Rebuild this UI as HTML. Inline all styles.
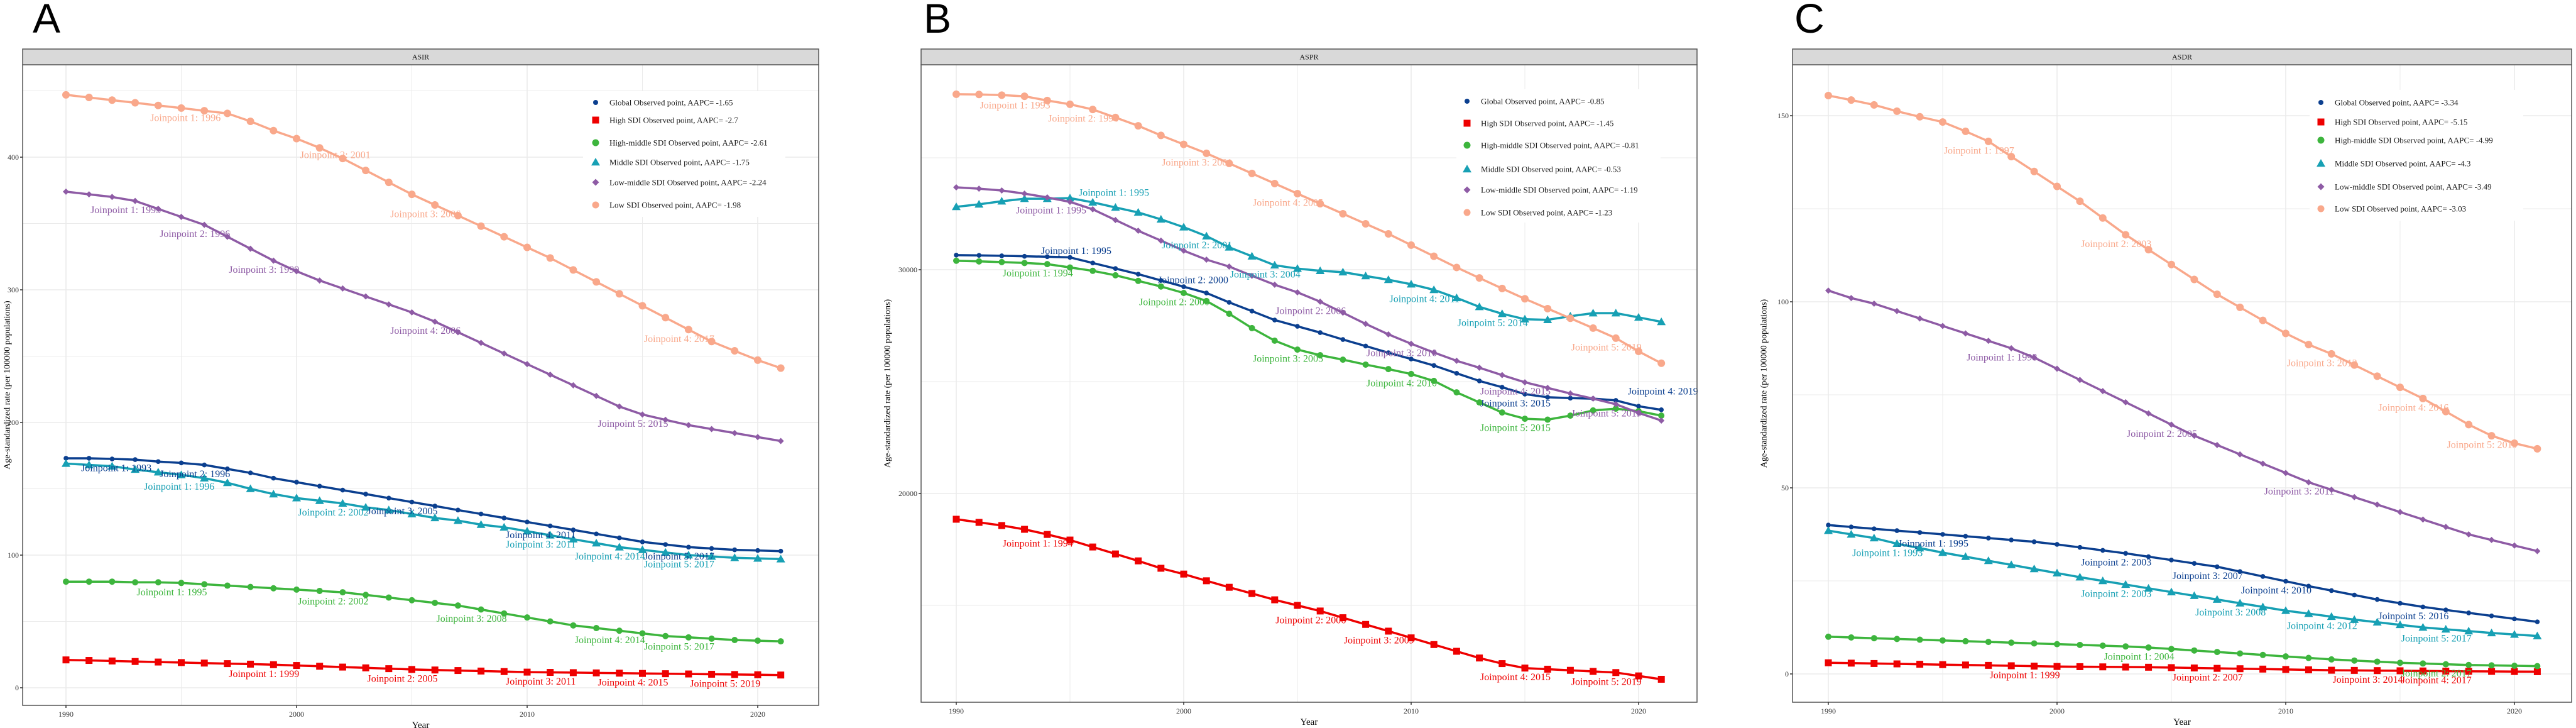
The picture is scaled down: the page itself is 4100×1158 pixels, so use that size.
<!DOCTYPE html>
<html><head><meta charset="utf-8">
<style>
html,body{margin:0;padding:0;background:#fff;}
svg{display:block;font-family:"Liberation Serif",serif;}
.letter{font-family:"Liberation Sans",sans-serif;}
</style></head>
<body>
<svg id="fig" width="4100" height="1158" viewBox="0 0 4100 1158" xmlns="http://www.w3.org/2000/svg"></svg>
<script>
// ---------- DATA ----------
const years = [1990,1991,1992,1993,1994,1995,1996,1997,1998,1999,2000,2001,2002,2003,2004,2005,2006,2007,2008,2009,2010,2011,2012,2013,2014,2015,2016,2017,2018,2019,2020,2021];
const seriesNames = ["Global","High SDI","High-middle SDI","Middle SDI","Low-middle SDI","Low SDI"];

// Panel A: ASIR
const aGlobal  = [173,173,172.5,172,170.5,169.5,168,165,162,158,155,152,149,146,143,140,137,134,131,128,125,122,119,116,113,110,108,106,105,104,103.5,103];
const aHigh    = [21,20.6,20.2,19.8,19.4,19,18.6,18.2,17.8,17.4,16.8,16.2,15.6,15,14.4,13.8,13.4,13,12.6,12.2,11.8,11.6,11.4,11.2,11,10.8,10.6,10.4,10.2,10,9.8,9.6];
const aHighMid = [80,80,80,79.5,79.5,79,78,77,76,75,74,73,72,70,68,66,64,62,59,56,53,50,47,45,43,41,39,38,37,36,35.5,35];
const aMiddle  = [169,168,167,164.5,162.5,160.5,158,154.5,150,146,143,141,139,136,134,131,128,126,123,121,118,115,112,109,106,104,102,100,99,98,97.5,97];
const aLowMid  = [374,372,370,367,361,355,349,340,331,322,314,307,301,295,289,283,276,268,260,252,244,236,228,220,212,206,202,198,195,192,189,186];
const aLow     = [447,445,443,441,439,437,435,433,427,420,414,407,399,390,381,372,364,356,348,340,332,324,315,306,297,288,279,270,261,254,247,241];
const aAAPC = [-1.65,-2.7,-2.61,-1.75,-2.24,-1.98];
const aJP = [[1993,1996,2005,2011,2017],[1999,2005,2011,2015,2019],[1995,2002,2008,2014,2017],[1996,2002,2011,2014,2017],[1993,1996,1999,2006,2015],[1996,2001,2006,2017]];

// Panel B: ASPR
const bGlobal  = [30650,30640,30620,30600,30580,30550,30300,30050,29800,29520,29240,28960,28540,28150,27750,27470,27190,26880,26590,26290,26010,25720,25370,25030,24750,24440,24300,24260,24240,24160,23900,23740];
const bHigh    = [18850,18710,18570,18400,18170,17920,17610,17300,16990,16660,16400,16100,15810,15530,15250,15000,14750,14450,14150,13850,13550,13250,12950,12650,12400,12200,12150,12100,12050,12000,11850,11700];
const bHighMid = [30400,30370,30340,30300,30250,30100,29950,29750,29500,29250,28960,28600,28030,27390,26830,26430,26180,25980,25760,25560,25340,25030,24520,24070,23620,23340,23300,23480,23710,23790,23680,23480];
const bMiddle  = [32810,32920,33060,33170,33170,33200,33010,32780,32560,32250,31900,31500,31000,30600,30200,30050,29950,29890,29720,29550,29350,29100,28740,28340,28030,27790,27760,27920,28060,28060,27870,27670];
const bLowMid  = [33680,33620,33540,33400,33230,33030,32700,32220,31740,31300,30850,30450,30140,29730,29330,28990,28570,28080,27580,27110,26690,26300,25930,25620,25290,24970,24720,24470,24240,23990,23600,23260];
const bLow     = [37840,37830,37800,37750,37560,37390,37160,36800,36430,36000,35600,35200,34750,34300,33850,33400,32950,32500,32050,31600,31100,30600,30100,29630,29160,28700,28260,27830,27390,26940,26350,25820];
const bAAPC = [-0.85,-1.45,-0.81,-0.53,-1.19,-1.23];
const bJP = [[1995,2000,2015,2019],[1994,2006,2009,2015,2019],[1994,2000,2005,2010,2015],[1995,2001,2004,2011,2014],[1995,2006,2010,2015,2019],[1993,1996,2001,2005,2019]];

// Panel C: ASDR
const cGlobal  = [40,39.5,39,38.5,38,37.5,37,36.5,36,35.5,34.8,34,33.2,32.4,31.5,30.6,29.7,28.8,27.5,26.2,24.9,23.6,22.4,21.2,20,19,18,17.2,16.4,15.6,14.8,14];
const cHigh    = [3,2.9,2.8,2.7,2.6,2.5,2.4,2.3,2.2,2.1,2,1.95,1.9,1.85,1.8,1.7,1.6,1.5,1.4,1.3,1.2,1.1,1,0.95,0.9,0.85,0.8,0.75,0.7,0.68,0.65,0.6];
const cHighMid = [10,9.8,9.6,9.4,9.2,9,8.8,8.6,8.4,8.2,8,7.8,7.6,7.4,7.1,6.7,6.3,5.9,5.5,5.1,4.7,4.3,3.9,3.6,3.3,3,2.8,2.6,2.4,2.3,2.2,2.1];
const cMiddle  = [38.5,37.5,36.5,35,33.8,32.6,31.5,30.4,29.3,28.2,27.1,26,25,24,23,22,21,20,19,18,17,16.2,15.4,14.6,13.9,13.2,12.5,12,11.5,11,10.6,10.2];
const cLowMid  = [103,101,99.5,97.5,95.5,93.5,91.5,89.5,87.5,85,82,79,76,73,70,67,64,61.5,59,56.5,54,51.5,49.5,47.5,45.5,43.5,41.5,39.5,37.5,36,34.5,33];
const cLow     = [155.4,154.2,152.9,151.2,149.7,148.3,145.8,143.1,139,135,131,127,122.5,118,114,110,106,102,98.5,95,91.5,88.5,86,83,80,77,74,70.5,67,64,62,60.5];
const cAAPC = [-3.34,-5.15,-4.99,-4.3,-3.49,-3.03];
const cJP = [[1995,2003,2007,2010,2016],[1999,2007,2014,2017],[2004,2017],[1993,2003,2008,2012,2017],[1998,2005,2011],[1997,2003,2012,2016,2019]];

const aTicks = [0,100,200,300,400], aMinor = [50,150,250,350,450];
const bTicks = [20000,30000], bMinor = [15000,25000,35000];
const cTicks = [0,50,100,150], cMinor = [25,75,125];
const xTicks = [1990,2000,2010,2020], xMinor = [1995,2005,2015];

// ---------- STYLE / LAYOUT ----------
const colors = ["#0B3F8F","#EE0000","#3DB53D","#17A0B4","#8E5BA5","#F9A88B"];
const shapes = ["circle","square","circle","triangle","diamond","circle"];
const sizes  = [3.8,5.5,5,7,5,6];
const NS = "http://www.w3.org/2000/svg";
const svg = document.getElementById("fig");

const panels = [
  {key:"a", letter:"A", strip:"ASIR", left:36, right:1303, bottom:1122, x0:105, pxYr:36.7, yZero:1094, pxU:2.11,
   data:[aGlobal,aHigh,aHighMid,aMiddle,aLowMid,aLow], aapc:aAAPC, jp:aJP, ticks:aTicks, minor:aMinor,
   legX:948, legRows:[163,191,227,258,290,326], legBox:[928,145,322,200], yTitleX:12, letterX:52},
  {key:"b", letter:"B", strip:"ASPR", left:1466, right:2701, bottom:1117, x0:1522, pxYr:36.2, yZero:1497, pxU:0.0356,
   data:[bGlobal,bHigh,bHighMid,bMiddle,bLowMid,bLow], aapc:bAAPC, jp:bJP, ticks:bTicks, minor:bMinor,
   legX:2335, legRows:[161,196,231,269,302,338], legBox:[2318,142,325,212], yTitleX:1413, letterX:1470},
  {key:"c", letter:"C", strip:"ASDR", left:2853, right:4093, bottom:1117, x0:2910, pxYr:36.4, yZero:1072, pxU:5.92,
   data:[cGlobal,cHigh,cHighMid,cMiddle,cLowMid,cLow], aapc:cAAPC, jp:cJP, ticks:cTicks, minor:cMinor,
   legX:3694, legRows:[163,194,223,260,297,332], legBox:[3676,143,340,208], yTitleX:2808, letterX:2856}
];
// custom label offsets (px) keyed panel-series-index
const labelOff = {
  "a-5-0":[-30,12],"a-5-1":[25,12],"b-3-0":[70,-8],"b-0-3":[75,-14],"b-4-0":[-30,14],
  "b-0-0":[10,-10],"b-0-1":[15,-10],"a-0-0":[-30,14],"a-3-0":[-40,14]
};

function el(tag, attrs, parent){
  const e = document.createElementNS(NS, tag);
  for (const k in attrs) e.setAttribute(k, attrs[k]);
  (parent||svg).appendChild(e);
  return e;
}
function marker(g, shape, x, y, s, col){
  let m;
  if (shape==="circle") m = el("circle",{cx:x,cy:y,r:s,fill:col},g);
  else if (shape==="square") m = el("rect",{x:x-s,y:y-s,width:2*s,height:2*s,fill:col},g);
  else if (shape==="triangle") m = el("polygon",{points:`${x},${y-s} ${x+s},${y+s*0.75} ${x-s},${y+s*0.75}`,fill:col},g);
  else m = el("polygon",{points:`${x},${y-s} ${x+s},${y} ${x},${y+s} ${x-s},${y}`,fill:col},g);
  return m;
}

panels.forEach(p=>{
  const xs = yr => p.x0 + (yr-1990)*p.pxYr;
  const ys = v => p.yZero - v*p.pxU;
  const top = 78, plotTop = 103;
  const g = el("g",{});
  
  

  const lt = el("text",{x:p.letterX,y:52,"font-size":66,class:"letter",fill:"#000"},g);
  lt.textContent = p.letter;
  
  

  // background
  el("rect",{x:p.left,y:plotTop,width:p.right-p.left,height:p.bottom-plotTop,fill:"#fff"},g);
  // grid
  const grid = el("g",{stroke:"#EBEBEB"},g);
  
  
  p.minor.forEach(v=>{ const y=ys(v); if(y>plotTop&&y<p.bottom) el("line",{x1:p.left,x2:p.right,y1:y,y2:y,"stroke-width":1},grid);});
  p.ticks.forEach(v=>{ const y=ys(v); el("line",{x1:p.left,x2:p.right,y1:y,y2:y,"stroke-width":1.6},grid);});
  xMinor.forEach(yr=>{ const x=xs(yr); el("line",{x1:x,x2:x,y1:plotTop,y2:p.bottom,"stroke-width":1},grid);});
  xTicks.forEach(yr=>{ const x=xs(yr); el("line",{x1:x,x2:x,y1:plotTop,y2:p.bottom,"stroke-width":1.6},grid);});

  // series
  p.data.forEach((vals,si)=>{
    const sg = el("g",{},g);
    
    
    const pts = vals.map((v,i)=>xs(years[i]).toFixed(1)+","+ys(v).toFixed(1)).join(" ");
    const ln = el("polyline",{points:pts,fill:"none",stroke:colors[si],"stroke-width":3.5,"stroke-linejoin":"round"},sg);
    
    
    vals.forEach((v,i)=>{
      const m = marker(sg, shapes[si], xs(years[i]), ys(v), sizes[si], colors[si]);
      
      
    });
  });
  // joinpoint labels
  p.data.forEach((vals,si)=>{
    p.jp[si].forEach((yr,k)=>{
      const off = labelOff[p.key+"-"+si+"-"+k] || [-15,15];
      const t = el("text",{x:xs(yr)+off[0],y:ys(vals[yr-1990])+off[1],"font-size":16,fill:colors[si],"text-anchor":"middle","dominant-baseline":"central"},g);
      t.textContent = "Joinpoint "+(k+1)+": "+yr;
      
      
    });
  });

  // panel border + strip
  el("rect",{x:p.left,y:plotTop,width:p.right-p.left,height:p.bottom-plotTop,fill:"none",stroke:"#555","stroke-width":1.5},g);
  const st = el("rect",{x:p.left,y:top,width:p.right-p.left,height:plotTop-top,fill:"#D9D9D9",stroke:"#555","stroke-width":1.5},g);
  
  
  const stt = el("text",{x:(p.left+p.right)/2,y:(top+plotTop)/2,"font-size":12,"text-anchor":"middle","dominant-baseline":"central",fill:"#1a1a1a"},g);
  stt.textContent = p.strip;
  
  

  // y axis ticks
  p.ticks.forEach(v=>{
    const y=ys(v);
    el("line",{x1:p.left-4,x2:p.left,y1:y,y2:y,stroke:"#333","stroke-width":1.5},g);
    const t=el("text",{x:p.left-6,y:y,"font-size":12,"text-anchor":"end","dominant-baseline":"central",fill:"#333"},g);
    t.textContent=v;
    
    
  });
  // x axis ticks
  xTicks.forEach(yr=>{
    const x=xs(yr);
    el("line",{x1:x,x2:x,y1:p.bottom,y2:p.bottom+4,stroke:"#333","stroke-width":1.5},g);
    const t=el("text",{x:x,y:p.bottom+14,"font-size":12,"text-anchor":"middle","dominant-baseline":"central",fill:"#333"},g);
    t.textContent=yr;
    
    
  });
  const xt = el("text",{x:(p.left+p.right)/2,y:p.bottom+32,"font-size":15,"text-anchor":"middle","dominant-baseline":"central"},g);
  xt.textContent="Year";
  
  
  const cy=(plotTop+p.bottom)/2;
  const yt = el("text",{x:p.yTitleX,y:cy,"font-size":14,"text-anchor":"middle","dominant-baseline":"central",transform:`rotate(-90 ${p.yTitleX} ${cy})`},g);
  yt.textContent="Age-standardized rate (per 100000 populations)";
  
  

  // legend
  const lg = el("g",{},g);
  
  
  el("rect",{x:p.legBox[0],y:p.legBox[1],width:p.legBox[2],height:p.legBox[3],fill:"#fff"},lg);
  p.legRows.forEach((ry,si)=>{
    const m = marker(lg, shapes[si], p.legX, ry, si===0?4:(si===3?7:5.5), colors[si]);
    
    
    const t = el("text",{x:p.legX+22,y:ry,"font-size":13,"dominant-baseline":"central",fill:"#1a1a1a"},lg);
    t.textContent = seriesNames[si]+" Observed point, AAPC= "+p.aapc[si];
    
    
  });
});
</script>
</body></html>
